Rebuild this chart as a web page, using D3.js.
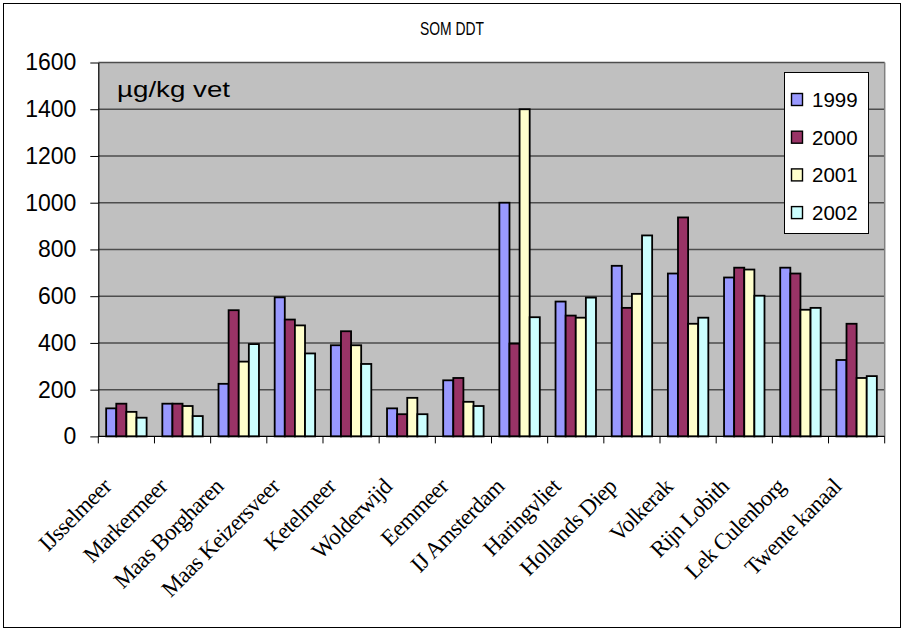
<!DOCTYPE html>
<html>
<head>
<meta charset="utf-8">
<script src="https://cdn.jsdelivr.net/npm/d3@7"></script>
<style>
  html, body { margin: 0; padding: 0; background: #fff; }
  svg { display: block; }
</style>
</head>
<body>
<svg id="chart" width="904" height="630"></svg>
<script>
// Sampling sites
const categories = [
  "IJsselmeer", "Markermeer", "Maas Borgharen", "Maas Keizersveer", "Ketelmeer",
  "Wolderwijd", "Eemmeer", "IJ Amsterdam", "Haringvliet", "Hollands Diep",
  "Volkerak", "Rijn Lobith", "Lek Culenborg", "Twente kanaal"
];
const years = ["1999", "2000", "2001", "2002"];

// Sum DDT (µg/kg fat) per site, one list per year
const values1999 = [120, 140, 225, 595, 390, 120, 240, 1000, 577, 730, 697, 680, 722, 327];
const values2000 = [140, 140, 540, 500, 450, 95, 250, 397, 517, 550, 937, 722, 697, 482];
const values2001 = [105, 130, 320, 475, 390, 165, 148, 1400, 508, 610, 482, 714, 542, 250];
const values2002 = [80, 87, 395, 355, 310, 95, 130, 510, 594, 860, 508, 602, 550, 258];

const yTicks = [0, 200, 400, 600, 800, 1000, 1200, 1400, 1600];
const colors = ["#9999FF", "#993366", "#FFFFCC", "#CCFFFF"];

const seriesValues = [values1999, values2000, values2001, values2002];
const rows = categories.map((c, i) => ({
  site: c,
  vals: years.map((y, k) => ({ year: y, value: seriesValues[k][i] }))
}));

const svg = d3.select("#chart");

// outer chart frame
svg.append("rect")
  .attr("x", 3.5).attr("y", 3.5).attr("width", 897).attr("height", 624)
  .attr("fill", "#fff").attr("stroke", "#000").attr("stroke-width", 1);

const plot = { left: 98.3, right: 884.7, top: 62.5, bottom: 436.4 };

const x0 = d3.scaleBand()
  .domain(categories)
  .range([plot.left, plot.right])
  .paddingInner(0.28)
  .paddingOuter(0.14);

const x1 = d3.scaleBand()
  .domain(years)
  .range([0, x0.bandwidth()]);

const y = d3.scaleLinear()
  .domain([0, 1600])
  .range([plot.bottom, plot.top]);

const color = d3.scaleOrdinal().domain(years).range(colors);

// plot background
svg.append("rect")
  .attr("x", plot.left).attr("y", plot.top)
  .attr("width", plot.right - plot.left).attr("height", plot.bottom - plot.top)
  .attr("fill", "#C0C0C0");

// horizontal gridlines
svg.append("g")
  .selectAll("line")
  .data(yTicks.filter(t => t > 0))
  .join("line")
  .attr("x1", plot.left).attr("x2", plot.right)
  .attr("y1", d => y(d)).attr("y2", d => y(d))
  .attr("stroke", "#4d4d4d").attr("stroke-width", 1.5);

// plot frame (right side)
svg.append("line")
  .attr("x1", plot.right).attr("x2", plot.right)
  .attr("y1", plot.top).attr("y2", plot.bottom)
  .attr("stroke", "#808080").attr("stroke-width", 1.5);

// bars
svg.append("g")
  .selectAll("g")
  .data(rows)
  .join("g")
  .attr("transform", d => `translate(${x0(d.site)},0)`)
  .selectAll("rect")
  .data(d => d.vals)
  .join("rect")
  .attr("x", d => x1(d.year))
  .attr("y", d => y(d.value))
  .attr("width", x1.bandwidth())
  .attr("height", d => y(0) - y(d.value))
  .attr("fill", d => color(d.year))
  .attr("stroke", "#000")
  .attr("stroke-width", 1.8);

// y axis
const yAxis = svg.append("g")
  .attr("transform", `translate(${plot.left},0)`)
  .call(d3.axisLeft(y).tickValues(yTicks).tickSize(8).tickPadding(14).tickSizeOuter(0).tickFormat(d3.format("d")));
yAxis.select(".domain").attr("stroke", "#000").attr("stroke-width", 1.2);
yAxis.selectAll(".tick line").attr("stroke", "#000");
yAxis.selectAll(".tick text")
  .attr("font-family", "Liberation Sans, Arial, sans-serif")
  .attr("font-size", 23)
  .attr("fill", "#000");

// x axis: line, boundary ticks, rotated labels
const step = x0.step();
const boundaries = d3.range(categories.length + 1).map(i => plot.left + i * step);
const xAxis = svg.append("g");
xAxis.append("line")
  .attr("x1", plot.left).attr("x2", plot.right)
  .attr("y1", plot.bottom).attr("y2", plot.bottom)
  .attr("stroke", "#000").attr("stroke-width", 1.2);
xAxis.selectAll("line.tick")
  .data(boundaries)
  .join("line")
  .attr("class", "tick")
  .attr("x1", d => d).attr("x2", d => d)
  .attr("y1", plot.bottom).attr("y2", plot.bottom + 7)
  .attr("stroke", "#000");
xAxis.selectAll("text")
  .data(categories)
  .join("text")
  .attr("transform", d => `translate(${x0(d) + x0.bandwidth() / 2 - 14},488) rotate(-45)`)
  .attr("text-anchor", "end")
  .attr("font-family", "Liberation Serif, Times New Roman, serif")
  .attr("font-size", 23)
  .attr("letter-spacing", -0.6)
  .attr("fill", "#000")
  .text(d => d);

// title
svg.append("text")
  .attr("x", 452).attr("y", 35)
  .attr("text-anchor", "middle")
  .attr("font-family", "Liberation Sans, Arial, sans-serif")
  .attr("font-size", 18)
  .attr("textLength", 64)
  .attr("lengthAdjust", "spacingAndGlyphs")
  .text("SOM DDT");

// unit label inside plot
svg.append("text")
  .attr("x", 117).attr("y", 97)
  .attr("font-family", "Liberation Sans, Arial, sans-serif")
  .attr("font-size", 22)
  .attr("textLength", 113)
  .attr("lengthAdjust", "spacingAndGlyphs")
  .text("µg/kg vet");

// legend
const legend = svg.append("g");
legend.append("rect")
  .attr("x", 784.5).attr("y", 72.5).attr("width", 84).attr("height", 161)
  .attr("fill", "#fff").attr("stroke", "#000").attr("stroke-width", 1);
const items = legend.selectAll("g.item")
  .data(years)
  .join("g")
  .attr("class", "item")
  .attr("transform", (d, i) => `translate(0,${99.5 + i * 37.7})`);
items.append("rect")
  .attr("x", 791.5).attr("y", -6).attr("width", 11).attr("height", 12)
  .attr("fill", d => color(d)).attr("stroke", "#000").attr("stroke-width", 1.4);
items.append("text")
  .attr("x", 812).attr("y", 7.5)
  .attr("font-family", "Liberation Sans, Arial, sans-serif")
  .attr("font-size", 20.5)
  .text(d => d);
</script>
</body>
</html>
